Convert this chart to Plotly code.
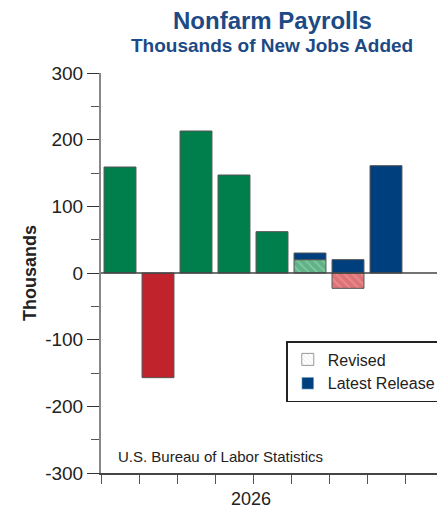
import plotly.graph_objects as go

slots = [1, 2, 3, 4, 5, 6, 7, 8]
gains = [159, None, 213, 147, 62, None, None, None]
losses = [None, -157, None, None, None, None, None, None]
revised_up = [None, None, None, None, None, 20, None, None]
revised_down = [None, None, None, None, None, None, -23, None]
latest = [None, None, None, None, None, 10, 20, 161]

y_ticks = [-300, -200, -100, 0, 100, 200, 300]
y_labels = ['-300', '-200', '-100', '0', '100', '200', '300']

GREEN = '#007f4c'
RED = '#c1232c'
BLUE = '#003f7d'
NAVY = '#1d4a85'

fig = go.Figure()
line = dict(color='#555555', width=1)
W = 0.84
fig.add_trace(go.Bar(x=slots, y=gains, width=W, marker=dict(color=GREEN, line=line), showlegend=False))
fig.add_trace(go.Bar(x=slots, y=losses, width=W, marker=dict(color=RED, line=line), showlegend=False))
fig.add_trace(go.Bar(x=slots, y=revised_up, width=W, showlegend=False,
                     marker=dict(color='#6fbf94', line=line,
                                 pattern=dict(shape='\\', fgcolor='#a8dcc0', bgcolor='#5fb386', size=6, solidity=0.3))))
fig.add_trace(go.Bar(x=slots, y=revised_down, width=W, showlegend=False,
                     marker=dict(color='#e07a7e', line=line,
                                 pattern=dict(shape='\\', fgcolor='#f0a8aa', bgcolor='#de7377', size=6, solidity=0.3))))
fig.add_trace(go.Bar(x=slots, y=latest, width=W, marker=dict(color=BLUE, line=line), showlegend=False))

# legend entries
fig.add_trace(go.Bar(x=[None], y=[None], name='Revised',
                     marker=dict(color='white', line=dict(color='#999999', width=1),
                                 pattern=dict(shape='\\', fgcolor='#bbbbbb', bgcolor='white', size=4))))
fig.add_trace(go.Bar(x=[None], y=[None], name='Latest Release', marker=dict(color=BLUE)))

fig.add_hline(y=0, line=dict(color='#444444', width=1.5))

# page body adds an 8px offset, so the figure is sized to fit inside it
fig.update_layout(
    width=437, height=511,
    margin=dict(l=93, r=2, t=65, b=46, autoexpand=False),
    barmode='relative',
    plot_bgcolor='white', paper_bgcolor='white',
    font=dict(family='Arial, Liberation Sans, sans-serif', color='#222222'),
    legend=dict(x=0.995, y=0.33, xanchor='right', yanchor='top',
                bordercolor='#222222', borderwidth=1.5, bgcolor='white',
                font=dict(size=16), traceorder='normal', itemwidth=30,
                tracegroupgap=0),
    xaxis=dict(range=[0.5, 9.5], tickvals=[i + 0.5 for i in range(0, 10)], ticktext=[''] * 10,
               ticks='outside', ticklen=9, tickcolor='#555555', showgrid=False, automargin=False,
               showline=True, linecolor='#444444', linewidth=1.5, zeroline=False, fixedrange=True),
    yaxis=dict(range=[-300, 300], tickvals=y_ticks, ticktext=y_labels, ticks='outside', ticklen=12,
               tickcolor='#333333', tickfont=dict(size=19), showgrid=False, automargin=False,
               showline=True, linecolor='#888888', linewidth=2, zeroline=False,
               minor=dict(dtick=50, ticks='outside', ticklen=8, tickcolor='#555555'),
               title=dict(text='<b>Thousands</b>', font=dict(size=18), standoff=4)),
)

fig.add_annotation(text='<b>Nonfarm Payrolls</b>', xref='paper', yref='paper', x=0.5, y=1.17,
                   showarrow=False, font=dict(size=24, color=NAVY))
fig.add_annotation(text='<b>Thousands of New Jobs Added</b>', xref='paper', yref='paper', x=0.5, y=1.1,
                   showarrow=False, font=dict(size=19, color=NAVY))
fig.add_annotation(text='U.S. Bureau of Labor Statistics', xref='paper', yref='paper', x=0.045, y=0.015,
                   xanchor='left', yanchor='bottom', showarrow=False, font=dict(size=15, color='#222222'))
fig.add_annotation(text='2026', xref='paper', yref='paper', x=0.44, y=-0.035,
                   yanchor='top', showarrow=False, font=dict(size=18, color='#222222'))

fig.write_html("out.html")
